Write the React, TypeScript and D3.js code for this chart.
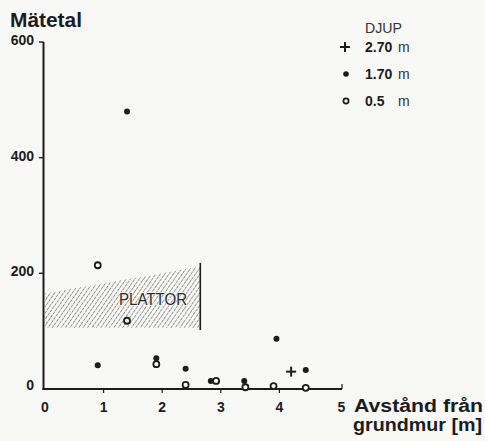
import React from "react";
import * as d3 from "d3";

const xTicks = [0, 1, 2, 3, 4, 5];
const yTicks = [0, 200, 400, 600];

// Djup 1.70 m (filled dots)
const deep170X = [0.9, 1.4, 1.9, 2.4, 2.83, 3.4, 3.95, 4.45];
const deep170Y = [41, 480, 53, 35, 14, 14, 87, 33];
// Djup 0.5 m (open circles)
const deep05X = [0.9, 1.4, 1.9, 2.4, 2.92, 3.42, 3.9, 4.45];
const deep05Y = [214, 118, 43, 7, 14, 3, 5, 2];
// Djup 2.70 m (plus)
const deep270X = [4.2];
const deep270Y = [30];

// Plattor region (hatched)
const plattorX = [0, 2.65];
const plattorTop = [165, 212];
const plattorBottom = 106;
const plattorLine = [102, 218];

const legendLabels = ["2.70", "1.70", "0.5"];

const ink = "#1c1c1c";
const bg = "#f8f8f6";
const FONT = "'Liberation Sans', Arial, sans-serif";

export default function App() {
  const x = d3.scaleLinear().domain([0, 5]).range([45, 338]);
  const y = d3.scaleLinear().domain([0, 600]).range([389, 42]);

  const hatchPoly = [
    [x(plattorX[0]), y(plattorBottom)],
    [x(plattorX[0]), y(plattorTop[0])],
    [x(plattorX[1]), y(plattorTop[1])],
    [x(plattorX[1]), y(plattorBottom)],
  ];
  const hatchPath = d3.line()(hatchPoly as [number, number][]) + "Z";

  const legendY = [47, 74, 101];

  return (
    <svg
      width={485}
      height={441}
      style={{ position: "absolute", left: 0, top: 0, background: bg }}
    >
      <defs>
        <pattern
          id="hatch"
          patternUnits="userSpaceOnUse"
          width={3.6}
          height={4}
          patternTransform="rotate(35)"
        >
          <line x1={0} y1={0} x2={0} y2={4} stroke="#3a3a3a" strokeWidth={1} strokeDasharray="3 0.8" />
        </pattern>
      </defs>
      <rect width={485} height={441} fill={bg} />

      {/* hatched plattor area */}
      <path d={hatchPath} fill="url(#hatch)" />
      <line
        x1={x(plattorX[1])}
        x2={x(plattorX[1])}
        y1={y(plattorLine[0])}
        y2={y(plattorLine[1])}
        stroke={ink}
        strokeWidth={1.6}
      />
      <text
        x={119}
        y={305}
        fontFamily={FONT}
        fontSize={16}
        fill="#2a2a2a"
        textLength={68}
        lengthAdjust="spacingAndGlyphs"
        stroke={bg}
        strokeWidth={1.5}
        style={{ paintOrder: "stroke" }}
      >
        PLATTOR
      </text>

      {/* axes */}
      <line x1={x(0) - 1.5} x2={x(0) - 1.5} y1={y(600)} y2={y(0) + 1} stroke={ink} strokeWidth={2} />
      <line x1={x(0) - 2.5} x2={x(5) + 4} y1={y(0)} y2={y(0)} stroke={ink} strokeWidth={2} />
      <line x1={x(5) + 4} x2={x(5) + 4} y1={y(0)} y2={y(0) - 5} stroke={ink} strokeWidth={1.2} />

      {yTicks.filter((t) => t > 0).map((t) => (
        <line key={"yt" + t} x1={x(0) - 6} x2={x(0) - 1.5} y1={y(t)} y2={y(t)} stroke={ink} strokeWidth={1.4} />
      ))}
      {yTicks.map((t) => (
        <text
          key={"yl" + t}
          x={34}
          y={y(t) + (t === 0 ? 1 : 3)}
          textAnchor="end"
          fontFamily={FONT}
          fontWeight="bold"
          fontSize={14}
          fill={ink}
        >
          {t}
        </text>
      ))}

      {xTicks.filter((t) => t > 0 && t < 5).map((t) => (
        <line key={"xt" + t} x1={x(t)} x2={x(t)} y1={y(0)} y2={y(0) + 4} stroke={ink} strokeWidth={1.2} />
      ))}
      {xTicks.map((t) => (
        <text
          key={"xl" + t}
          x={t === 5 ? x(t) + 3.5 : x(t)}
          y={412}
          textAnchor="middle"
          fontFamily={FONT}
          fontWeight="bold"
          fontSize={14}
          fill={ink}
        >
          {t}
        </text>
      ))}

      {/* axis titles */}
      <text x={10} y={27} fontFamily={FONT} fontWeight="bold" fontSize={20} fill={ink} textLength={72} lengthAdjust="spacingAndGlyphs">
        Mätetal
      </text>
      <text x={354} y={412} fontFamily={FONT} fontWeight="bold" fontSize={18} fill={ink} textLength={129} lengthAdjust="spacingAndGlyphs">
        Avstånd från
      </text>
      <text x={353} y={431} fontFamily={FONT} fontWeight="bold" fontSize={18} fill={ink} textLength={129} lengthAdjust="spacingAndGlyphs">
        grundmur [m]
      </text>

      {/* legend */}
      <text x={365} y={33} fontFamily={FONT} fontSize={14} fill="#333" textLength={37} lengthAdjust="spacingAndGlyphs">
        DJUP
      </text>
      <g stroke={ink} strokeWidth={2}>
        <line x1={340} x2={350} y1={legendY[0]} y2={legendY[0]} />
        <line x1={345} x2={345} y1={legendY[0] - 5} y2={legendY[0] + 5} />
      </g>
      <circle cx={346} cy={legendY[1]} r={2.8} fill={ink} />
      <circle cx={346} cy={legendY[2]} r={2.6} fill="none" stroke={ink} strokeWidth={1.7} />
      {legendLabels.map((lab, i) => (
        <g key={lab}>
          <text x={365} y={legendY[i] + 5} fontFamily={FONT} fontWeight="bold" fontSize={14} fill={ink}>
            {lab}
          </text>
          <text x={398} y={legendY[i] + 5} fontFamily={FONT} fontSize={14} fill="#333">
            m
          </text>
        </g>
      ))}

      {/* data: 1.70 m filled */}
      {deep170X.map((v, i) => (
        <circle key={"f" + i} cx={x(v)} cy={y(deep170Y[i])} r={3} fill={ink} />
      ))}
      {/* data: 0.5 m open */}
      {deep05X.map((v, i) => (
        <circle key={"o" + i} cx={x(v)} cy={y(deep05Y[i])} r={3} fill={bg} stroke={ink} strokeWidth={1.8} />
      ))}
      {/* data: 2.70 m plus */}
      {deep270X.map((v, i) => (
        <g key={"p" + i} stroke={ink} strokeWidth={2}>
          <line x1={x(v) - 5} x2={x(v) + 5} y1={y(deep270Y[i])} y2={y(deep270Y[i])} />
          <line x1={x(v)} x2={x(v)} y1={y(deep270Y[i]) - 5} y2={y(deep270Y[i]) + 5} />
        </g>
      ))}
    </svg>
  );
}
